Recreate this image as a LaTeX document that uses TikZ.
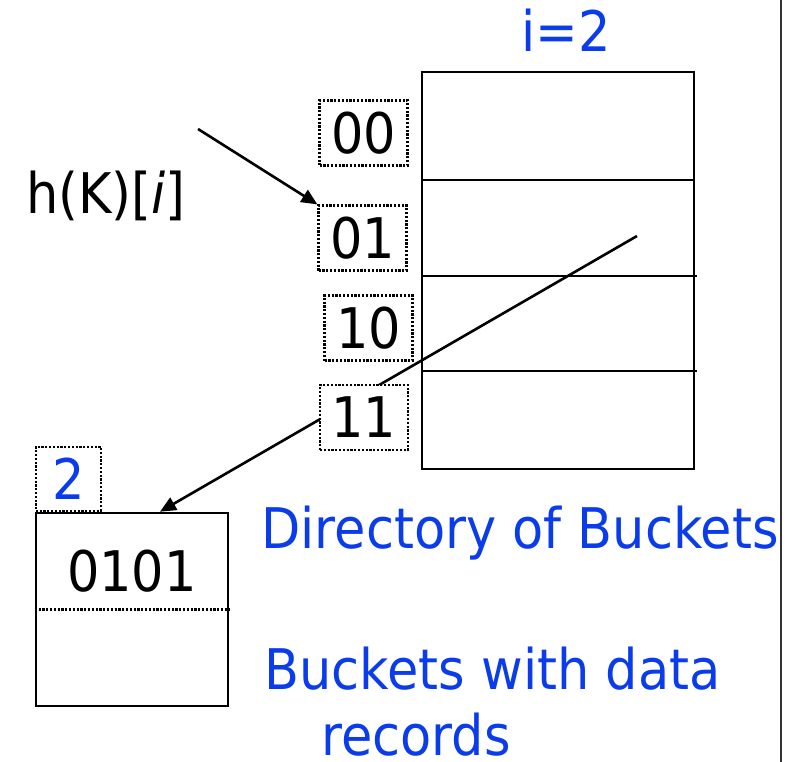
\documentclass[tikz,border=0pt]{standalone}
\usepackage{fontspec}
\setmainfont{DejaVu Sans}[FakeStretch=0.91]
\usetikzlibrary{arrows.meta, positioning, calc, backgrounds}
\definecolor{ehBlue}{HTML}{0A3CEB}
\definecolor{ehRule}{HTML}{333333}
\tikzset{
  ehtext/.style={font=\fontsize{56}{60}\selectfont, inner sep=0pt},
  ehlabel/.style={ehtext, text=ehBlue},
  slotbox/.style={
    draw, line width=2.2pt, dash pattern=on 2.2pt off 1.6pt, fill=white,
    minimum width=88pt, minimum height=65pt, inner sep=0pt, ehtext
  },
  bucketbox/.style={draw, line width=2.6pt, minimum width=192pt, minimum height=193pt, inner sep=0pt},
  dirbox/.style={draw, line width=2.6pt, minimum width=272pt, minimum height=397pt, inner sep=0pt},
  divider/.style={line width=2.4pt},
  dotdivider/.style={line width=2.2pt, dash pattern=on 2.2pt off 1.6pt},
  pointer/.style={-{Triangle[length=16pt, width=14pt]}, line width=2.6pt},
  rule/.style={line width=2.2pt, ehRule}
}
\begin{document}
\begin{tikzpicture}[x=1pt, y=-1pt]
  \useasboundingbox (0,0) rectangle (792,762);
  % directory
  \node[dirbox] (dir) at (558,270.5) {};
  \draw[divider] (422,180) -- (694,180);
  \draw[divider] (422,276) -- (697,276);
  \draw[divider] (422,371) -- (697,371);
  \node[ehlabel, anchor=base] (depth) at (566,52) {i=2};
  % slots
  \node[slotbox] (s00) at (363.5,133) {00};
  \node[slotbox] (s01) at (362.5,238) {01};
  \node[slotbox] (s10) at (368.5,328) {10};
  \node[slotbox] (s11) at (364,417.5) {11};
  \node[ehtext, anchor=base] (hash) at (106,213) {h(K)[\textit{i}]};
  % bucket
  \node[bucketbox] (bucket) at (132,609.5) {};
  \node[slotbox, ehlabel, minimum width=65pt, minimum height=64pt, anchor=south west] (ldepth) at (bucket.north west) {2};
  \node[ehtext, anchor=base] (rec) at ($(bucket.north)+(0,80)$) {0101};
  \draw[dotdivider] (bucket.west) -- (bucket.east);
  % notes
  \node[ehlabel, anchor=base] (dirnote) at (520,548) {Directory of Buckets};
  \node[ehlabel, anchor=base] (bnote) at (492.5,689) {Buckets with data};
  \node[ehlabel, anchor=base] (bnote2) at (416,755) {records};
  \draw[rule] (781,0) -- (781,762);
  % pointers
  \begin{scope}[on background layer]
    \coordinate (hstart) at (198,129);
    \coordinate (pstart) at (637,236);
    \draw[pointer] (hstart) -- (s01.north west);
    \draw[pointer] (pstart) -- ($(bucket.north)+(28,0)$);
  \end{scope}
\end{tikzpicture}
\end{document}
